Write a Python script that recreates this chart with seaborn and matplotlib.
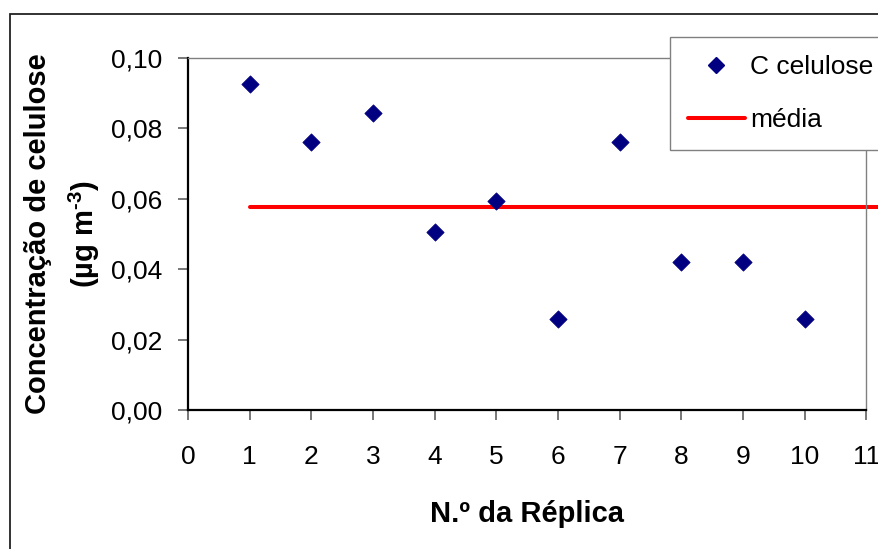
import matplotlib
matplotlib.use("Agg")
import matplotlib.pyplot as plt
import seaborn as sns
import pandas as pd
import numpy as np
from matplotlib.lines import Line2D
from matplotlib.patches import Rectangle

# Data
replicas = [1, 2, 3, 4, 5, 6, 7, 8, 9, 10]
c_celulose = [0.0927, 0.0762, 0.0844, 0.0506, 0.0593, 0.0259, 0.0762, 0.0421, 0.0421, 0.0259]
media_x = [1, 12]
x_ticks = list(range(0, 12))
y_ticks = [0.00, 0.02, 0.04, 0.06, 0.08, 0.10]
y_ticklabels = ["0,00", "0,02", "0,04", "0,06", "0,08", "0,10"]

media_val = float(np.mean(c_celulose))
df = pd.DataFrame({"replica": replicas, "c": c_celulose})
df_m = pd.DataFrame({"x": media_x, "y": [media_val] * len(media_x)})

sns.set_theme(style="white")
plt.rcParams["font.family"] = ["Liberation Sans", "DejaVu Sans"]
plt.rcParams["text.color"] = "#000000"
plt.rcParams["axes.labelcolor"] = "#000000"
plt.rcParams["mathtext.fontset"] = "custom"
plt.rcParams["mathtext.rm"] = "Liberation Sans:bold"
plt.rcParams["mathtext.bf"] = "Liberation Sans:bold"
plt.rcParams["mathtext.it"] = "Liberation Sans:bold"

W, H = 879, 549
fig = plt.figure(figsize=(W / 100, H / 100), dpi=100)
ax = fig.add_axes([188 / W, 1 - 410 / H, (866.5 - 188) / W, (410 - 58) / H])

sns.lineplot(data=df_m, x="x", y="y", ax=ax, color="#FF0000", linewidth=2.9,
             clip_on=False, zorder=2, legend=False)
sns.scatterplot(data=df, x="replica", y="c", ax=ax, marker="D", color="#000080",
                s=78, edgecolor="#000080", linewidth=0.5, zorder=3, legend=False)

ax.set_xlim(0, 11)
ax.set_ylim(0, 0.10)
ax.set_xticks(x_ticks)
ax.set_xticklabels([str(t) for t in x_ticks])
ax.set_yticks(y_ticks)
ax.set_yticklabels(y_ticklabels)

ax.tick_params(axis="both", which="both", direction="out", labelsize=19,
               labelcolor="#000000")
ax.tick_params(axis="y", length=7, width=1.2, color="#606060", pad=11.5, left=True)
ax.tick_params(axis="x", length=7, width=1.2, color="#606060", pad=18.5, bottom=True)

for side in ["top", "right"]:
    ax.spines[side].set_color("#808080")
    ax.spines[side].set_linewidth(1.0)
for side in ["left", "bottom"]:
    ax.spines[side].set_color("#000000")
    ax.spines[side].set_linewidth(1.6)

ax.set_xlabel("N.º da Réplica", fontsize=21, fontweight="bold", labelpad=22)
ax.set_ylabel("")
fig.text(38 / W, 1 - 234 / H, "Concentração de celulose", rotation=90,
         ha="center", va="center", fontsize=21, fontweight="bold")
fig.text(84 / W, 1 - 234 / H, r"(µg m$^{\text{-3}}$)", rotation=90,
         ha="center", va="center", fontsize=21, fontweight="bold")

handles = [
    Line2D([], [], marker="D", color="#000080", linestyle="none", markersize=8.5),
    Line2D([], [], color="#FF0000", linewidth=2.9),
]
leg = fig.legend(handles, ["C celulose", "média"], loc="upper left",
                 bbox_to_anchor=(670 / W, 1 - 37.5 / H), fontsize=19,
                 frameon=True, fancybox=False, framealpha=1, edgecolor="#808080",
                 borderpad=0.68, handlelength=2.15, handletextpad=0.22,
                 labelspacing=1.1, borderaxespad=0)
leg.get_frame().set_linewidth(1.0)

# outer chart border
fig.patches.append(Rectangle((10 / W, -0.5), 2.0, 0.5 + (1 - 14 / H),
                             transform=fig.transFigure, fill=False,
                             edgecolor="#222222", linewidth=1.3))

fig.savefig("out.png", dpi=100)
